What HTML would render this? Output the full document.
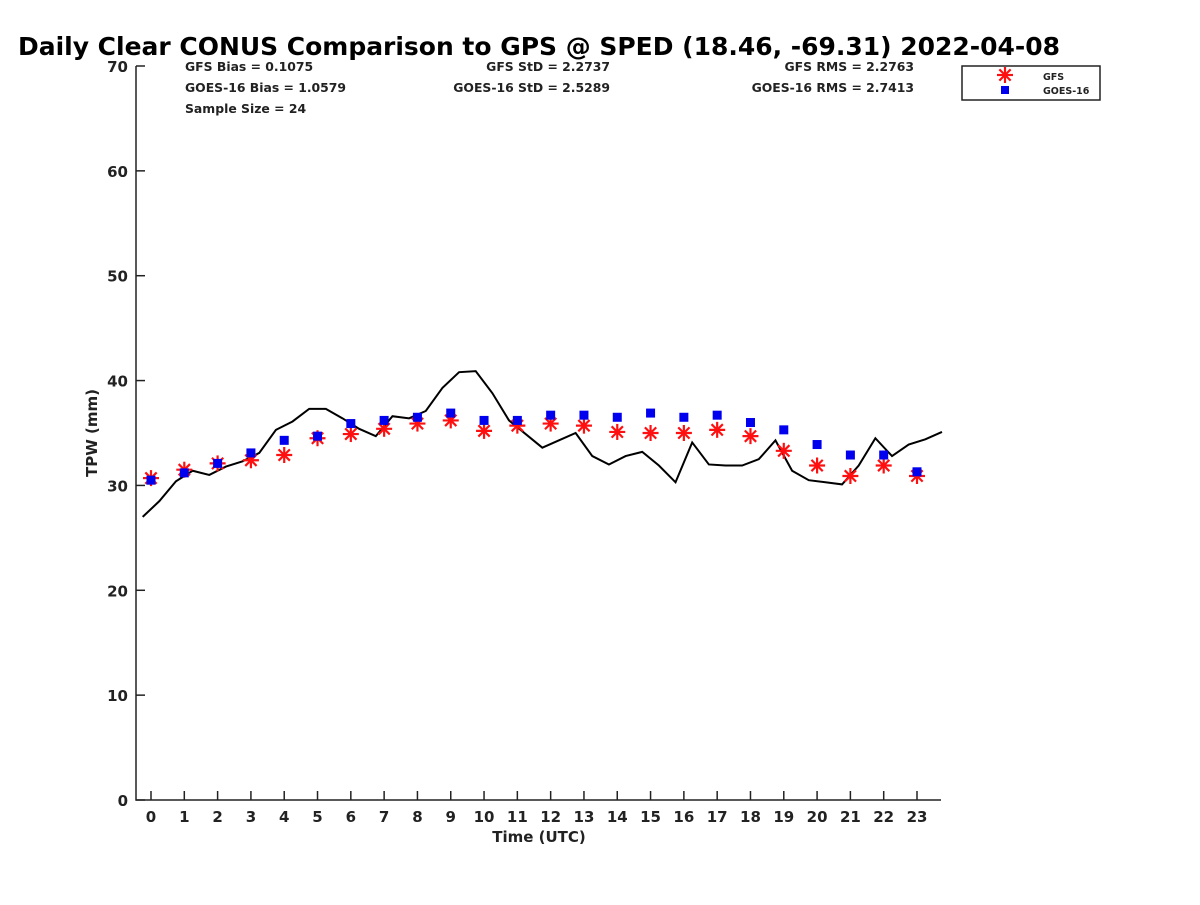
<!DOCTYPE html>
<html><head><meta charset="utf-8"><style>
body{margin:0;background:#fff;}
svg text{font-family:"DejaVu Sans","Liberation Sans",sans-serif;font-weight:bold;fill:#222;}
</style></head><body>
<svg width="1200" height="900" xmlns="http://www.w3.org/2000/svg">
<text x="18" y="55" font-size="23" textLength="1042" lengthAdjust="spacingAndGlyphs" style="fill:#000;font-size:24.5px">Daily Clear CONUS Comparison to GPS @ SPED (18.46, -69.31) 2022-04-08</text>
<g id="stats">
<text x="185" y="71" font-size="12.4">GFS Bias = 0.1075</text>
<text x="185" y="92" font-size="12.4">GOES-16 Bias = 1.0579</text>
<text x="185" y="113" font-size="12.4">Sample Size = 24</text>
<text x="610" y="71" font-size="12.4" text-anchor="end">GFS StD = 2.2737</text>
<text x="610" y="92" font-size="12.4" text-anchor="end">GOES-16 StD = 2.5289</text>
<text x="914" y="71" font-size="12.4" text-anchor="end">GFS RMS = 2.2763</text>
<text x="914" y="92" font-size="12.4" text-anchor="end">GOES-16 RMS = 2.7413</text>
</g>
<g id="axes"></g>
<g id="marks"></g>
<g>
<rect x="962" y="66" width="138" height="34" fill="#fff" stroke="#222" stroke-width="1.5"/>
<g id="legstar"></g>
<rect x="1001" y="86" width="8" height="8" fill="#0000ee"/>
<text x="1043" y="80" font-size="9.5">GFS</text>
<text x="1043" y="94" font-size="9.5">GOES-16</text>
</g>
<text x="539" y="842" font-size="15" text-anchor="middle">Time (UTC)</text>
<text transform="translate(97,433) rotate(-90)" font-size="15" text-anchor="middle">TPW (mm)</text>
</svg>
<script>
const gpsTimes=[-0.25,0.25,0.75,1.25,1.75,2.25,2.75,3.25,3.75,4.25,4.75,5.25,5.75,6.25,6.75,7.25,7.75,8.25,8.75,9.25,9.75,10.25,10.75,11.25,11.75,12.25,12.75,13.25,13.75,14.25,14.75,15.25,15.75,16.25,16.75,17.25,17.75,18.25,18.75,19.25,19.75,20.25,20.75,21.25,21.75,22.25,22.75,23.25,23.75];
const gpsValues=[27.0,28.5,30.4,31.4,31.0,31.8,32.3,33.1,35.3,36.1,37.3,37.3,36.4,35.4,34.7,36.6,36.4,37.1,39.3,40.8,40.9,38.8,36.2,34.9,33.6,34.3,35.0,32.8,32.0,32.8,33.2,31.9,30.3,34.1,32.0,31.9,31.9,32.5,34.3,31.4,30.5,30.3,30.1,31.9,34.5,32.8,33.9,34.4,35.1];
const hours=[0,1,2,3,4,5,6,7,8,9,10,11,12,13,14,15,16,17,18,19,20,21,22,23];
const gfsValues=[30.7,31.5,32.1,32.4,32.9,34.5,34.9,35.4,35.9,36.2,35.2,35.7,35.9,35.7,35.1,35.0,35.0,35.3,34.7,33.3,31.9,30.9,31.9,30.9];
const goesValues=[30.5,31.2,32.1,33.1,34.3,34.7,35.9,36.2,36.5,36.9,36.2,36.2,36.7,36.7,36.5,36.9,36.5,36.7,36.0,35.3,33.9,32.9,32.9,31.3];
const yTicks=[0,10,20,30,40,50,60,70];
const NS='http://www.w3.org/2000/svg';
const X=t=>151+t*(917-151)/23;
const Y=v=>800-v*(800-66)/70;
function mk(tag,attrs,parent){const e=document.createElementNS(NS,tag);for(const k in attrs)e.setAttribute(k,attrs[k]);parent.appendChild(e);return e;}
const ax=document.getElementById('axes');
const axl=mk('path',{d:'M136,66 V800 H941',fill:'none',stroke:'#222','stroke-width':1.5},ax);


yTicks.forEach(v=>{
 mk('line',{x1:136,x2:145,y1:Y(v),y2:Y(v),stroke:'#222','stroke-width':1.5},ax);
 const t=mk('text',{x:128,y:Y(v)+6,'font-size':15,'text-anchor':'end'},ax);
 t.textContent=v;
 
 
});
hours.forEach(h=>{
 mk('line',{x1:X(h),x2:X(h),y1:800,y2:791,stroke:'#222','stroke-width':1.5},ax);
 const t=mk('text',{x:X(h),y:822,'font-size':15,'text-anchor':'middle'},ax);
 t.textContent=h;
 
 
});
const mg=document.getElementById('marks');
const line=mk('polyline',{points:gpsTimes.map((t,i)=>X(t)+','+Y(gpsValues[i])).join(' '),fill:'none',stroke:'#000','stroke-width':2},mg);


function star(cx,cy,p){const g=mk('g',{stroke:'#ff1010','stroke-width':2.2},p);const r=8;
 for(let a=0;a<4;a++){const an=a*Math.PI/4;mk('line',{x1:cx-r*Math.cos(an),y1:cy-r*Math.sin(an),x2:cx+r*Math.cos(an),y2:cy+r*Math.sin(an)},g);}return g;}
hours.forEach((h,i)=>{
 const s=star(X(h),Y(gfsValues[i]),mg);
 
 
});
hours.forEach((h,i)=>{
 const r=mk('rect',{x:X(h)-4.5,y:Y(goesValues[i])-4.5,width:9,height:9,fill:'#0000ee'},mg);
 
 
});
star(1005,75,document.getElementById('legstar'));
</script>
</body></html>
